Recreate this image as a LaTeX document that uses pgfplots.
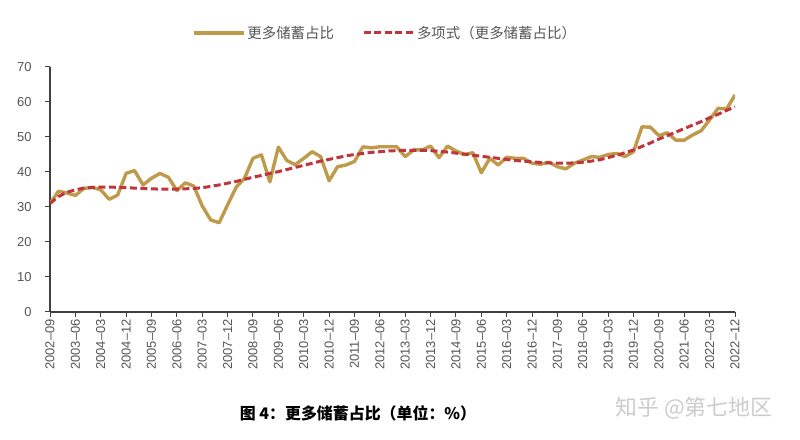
\documentclass[border=0pt]{standalone}
\usepackage{pgfplots}
\pgfplotsset{compat=1.18}
\usepackage{fontspec}
\setmainfont{Liberation Sans}
\newfontfamily\cjk{Noto Sans CJK SC}
\definecolor{gold}{HTML}{BE9A4A}
\definecolor{dred}{HTML}{C0353B}
\definecolor{axgray}{HTML}{404040}
\definecolor{lblgray}{HTML}{555555}
\begin{document}
\begin{tikzpicture}[x=1bp,y=1bp]
\useasboundingbox (0,0) rectangle (800,440);
\begin{axis}[
 at={(50bp,128bp)}, anchor=south west,
 scale only axis, width=685bp, height=245bp,
 xmin=0, xmax=81, ymin=0, ymax=70,
 axis x line*=bottom, axis y line*=left,
 axis line style={axgray, line width=1.4bp, -},
 tick align=outside, major tick length=5bp,
 major tick style={axgray, line width=1bp},
 /pgf/number format/assume math mode=true,
 ytick={0,10,...,70},
 xtick={0,3,...,81},
 xticklabels={2002--09,2003--06,2004--03,2004--12,2005--09,2006--06,2007--03,2007--12,2008--09,2009--06,2010--03,2010--12,2011--09,2012--06,2013--03,2013--12,2014--09,2015--06,2016--03,2016--12,2017--09,2018--06,2019--03,2019--12,2020--09,2021--06,2022--03,2022--12},
 xticklabel style={rotate=90, anchor=east, font=\fontsize{13}{14}\selectfont, text=lblgray, inner sep=2bp},
 yticklabel style={font=\fontsize{13}{14}\selectfont, text=lblgray, xshift=-10bp},
 legend columns=2,
 legend cell align=left,
 legend style={at={(0.489,1.139)}, anchor=center, draw=none, fill=none,
   font=\cjk\fontsize{14.5}{16}\selectfont, text=lblgray,
   /tikz/every even column/.append style={column sep=26bp}},
 legend image code/.code={\draw[#1] (0bp,0bp) -- (50bp,0bp);},
]
\addplot[gold, line width=3.4bp, line join=round] table {
0 31.0
1 34.5
2 34.0
3 33.3
4 35.3
5 35.6
6 34.9
7 32.2
8 33.4
9 39.6
10 40.4
11 36.3
12 38.2
13 39.6
14 38.5
15 34.7
16 36.9
17 36.0
18 30.3
19 26.3
20 25.5
21 30.6
22 35.6
23 38.2
24 43.9
25 44.9
26 37.2
27 47.1
28 43.3
29 42.1
30 43.9
31 45.8
32 44.4
33 37.5
34 41.5
35 42.0
36 43.0
37 47.2
38 46.9
39 47.2
40 47.2
41 47.2
42 44.4
43 46.3
44 46.3
45 47.4
46 44.1
47 47.4
48 46.0
49 45.0
50 45.5
51 39.8
52 43.9
53 42.0
54 44.2
55 43.9
56 43.9
57 42.5
58 42.2
59 42.8
60 41.5
61 40.9
62 42.5
63 43.4
64 44.4
65 44.2
66 45.0
67 45.3
68 44.4
69 45.8
70 52.9
71 52.8
72 50.4
73 51.2
74 49.1
75 49.1
76 50.6
77 51.8
78 54.9
79 58.2
80 58.0
81 62.0
};
\addlegendentry{更多储蓄占比}
\addplot[dred, line width=3bp, dash pattern=on 7bp off 3.5bp] table {
0 31.0
1 33.0
2 34.2
3 34.9
4 35.4
5 35.6
6 35.7
7 35.7
8 35.6
9 35.5
10 35.4
11 35.3
12 35.2
13 35.1
14 35.1
15 35.1
16 35.2
17 35.3
18 35.5
19 35.9
20 36.3
21 36.8
22 37.3
23 37.9
24 38.5
25 39.0
26 39.6
27 40.1
28 40.7
29 41.3
30 41.9
31 42.5
32 43.1
33 43.6
34 44.1
35 44.6
36 45.0
37 45.3
38 45.6
39 45.8
40 46.0
41 46.1
42 46.2
43 46.2
44 46.2
45 46.1
46 45.9
47 45.7
48 45.4
49 45.1
50 44.8
51 44.5
52 44.2
53 43.9
54 43.6
55 43.3
56 43.1
57 42.9
58 42.7
59 42.6
60 42.5
61 42.5
62 42.6
63 42.8
64 43.1
65 43.5
66 44.1
67 44.8
68 45.5
69 46.3
70 47.3
71 48.3
72 49.4
73 50.4
74 51.4
75 52.4
76 53.4
77 54.4
78 55.5
79 56.5
80 57.6
81 58.6
};
\addlegendentry{多项式（更多储蓄占比）}
\end{axis}
\node[font=\cjk\bfseries\fontsize{16}{18}\selectfont, text=black] at (358,27) {图 4：更多储蓄占比（单位：\%）};
\node[font=\cjk\fontsize{22}{24}\selectfont, text=gray!40] at (694,32) {知乎 @第七地区};
\end{tikzpicture}
\end{document}
